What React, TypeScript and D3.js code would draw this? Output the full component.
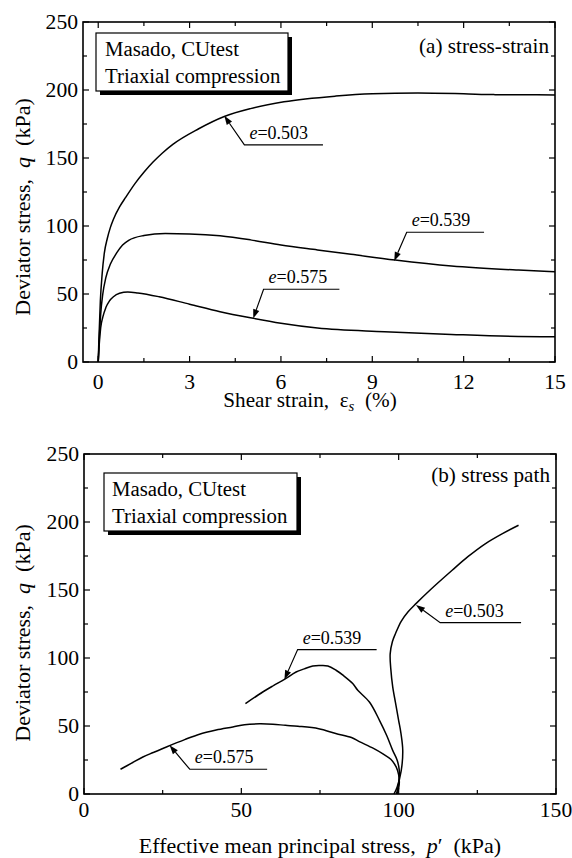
import React from "react";
import * as d3 from "d3";

const FONT = "Liberation Serif, Times New Roman, Times, serif";

// ---------- Panel (a): stress-strain ----------
const strainTicks = [0, 3, 6, 9, 12, 15];
const strainMinor = [1.5, 4.5, 7.5, 10.5, 13.5];
const qTicks = [0, 50, 100, 150, 200, 250];
const qMinor = [25, 75, 125, 175, 225];

const strain503: [number, number][] = [
  [0, 0], [0.02, 15], [0.07, 45], [0.13, 65], [0.2, 80], [0.3, 91], [0.4, 99], [0.5, 105], [0.7, 114],
  [0.9, 121], [1.2, 131], [1.5, 139.5], [1.8, 147], [2.1, 153.5], [2.45, 160], [3.3, 171.5], [4.14, 180.5],
  [5, 186.3], [6.1, 191.3], [7.8, 195.5], [9, 197.2], [10.5, 197.8], [12, 197.2], [13, 196.6], [14, 196.5], [15, 196.3],
];
const strain539: [number, number][] = [
  [0, 0], [0.03, 15], [0.08, 35], [0.15, 50], [0.25, 62], [0.4, 72], [0.6, 80], [0.8, 86],
  [1.0, 89.5], [1.5, 93], [2.2, 94.5], [3, 94.2], [4, 92.8], [5, 89.8], [6, 86], [7.2, 82.4],
  [8.3, 79.2], [9.75, 75], [11.6, 70.6], [13.8, 67.6], [15, 66.4],
];
const strain575: [number, number][] = [
  [0, 0], [0.03, 12], [0.08, 25], [0.15, 33], [0.25, 40], [0.37, 45], [0.5, 48], [0.7, 50.5],
  [0.97, 51.5], [1.3, 50.8], [2, 48], [3, 42.5], [4, 37], [5, 32.5], [6, 28.5], [7.2, 25],
  [9.4, 22.3], [11.6, 20.3], [13.8, 18.8], [15, 18.6],
];
// annotation: label, tip [x,q], knee [x,q], underline end x
const annA = [
  { label: "0.503", tip: [4.14, 181], knee: [4.8, 159.6], end: 7.38 },
  { label: "0.539", tip: [9.72, 74.3], knee: [10.13, 95.4], end: 12.67 },
  { label: "0.575", tip: [5.09, 32.1], knee: [5.43, 53.5], end: 7.92 },
];

// ---------- Panel (b): stress path ----------
const pTicks = [0, 50, 100, 150];
const pMinor = [25, 75, 125];

const path503: [number, number][] = [
  [98.5, 0], [99.5, 5], [100.8, 17], [101.3, 32], [100.7, 45], [100, 54], [99, 67], [98.1, 79],
  [97.5, 92], [97.3, 103], [98, 112], [99, 118], [100.8, 127], [103, 134], [105.5, 140], [110, 150],
  [117, 164.5], [122, 174.5], [127.5, 184], [133, 191.5], [138.1, 197.6],
];
const path539: [number, number][] = [
  [99.3, 0], [100, 8], [100.2, 17.4], [99.5, 25], [98.1, 32.1], [96.2, 43], [93.9, 54.2],
  [90.7, 67.6], [87, 76.3], [85.4, 81.2], [82.5, 87], [80.1, 91], [77.5, 94.1], [75, 94.4],
  [72.7, 94.1], [70, 92], [67.4, 89.7], [63.7, 84.3], [60.2, 79.7], [56.8, 75], [51.3, 66.5],
];
const path575: [number, number][] = [
  [99.6, 0], [100.2, 8], [100, 14], [99.2, 19.9], [97.5, 25.5], [95, 29.5], [92, 33.5],
  [87.5, 38.5], [85, 41.5], [80, 44.5], [74.6, 48], [68, 49.8], [64, 50.5], [60, 51.3],
  [55.8, 51.6], [51, 51], [47.3, 49.3], [42, 47], [36.7, 44], [32, 40], [26.2, 34.6],
  [22, 30.5], [18.7, 27.2], [15, 22.5], [11.6, 18.2],
];
const annB = [
  { label: "0.575", tip: [27.2, 35.8], knee: [33.6, 18.2], end: 58.2 },
  { label: "0.539", tip: [63.7, 84.3], knee: [67.9, 106.2], end: 93 },
  { label: "0.503", tip: [105.5, 139], knee: [113.2, 126], end: 138.9 },
];

function T({ x, y, size = 20, sx = 1, anchor = "start", rot = 0, children }: any) {
  return (
    <text
      transform={`translate(${x},${y}) rotate(${rot}) scale(${sx},1)`}
      textAnchor={anchor}
      fill="#000"
      style={{ whiteSpace: "pre", fontFamily: FONT, fontSize: size + "px" }}
    >
      {children}
    </text>
  );
}

function Arrow({ tip, knee, end, label, x, y }: any) {
  const tx = x(tip[0]), ty = y(tip[1]);
  const kx = x(knee[0]), ky = y(knee[1]);
  const ex = x(end);
  const ang = Math.atan2(ty - ky, tx - kx);
  const L = 9, W = 3.2;
  const bx = tx - L * Math.cos(ang), by = ty - L * Math.sin(ang);
  const nx = -Math.sin(ang), ny = Math.cos(ang);
  const head = `${tx},${ty} ${bx + nx * W},${by + ny * W} ${bx - nx * W},${by - ny * W}`;
  return (
    <g>
      <polyline points={`${bx},${by} ${kx},${ky} ${ex},${ky}`} fill="none" stroke="#000" strokeWidth={1.2} />
      <polygon points={head} fill="#000" />
      <T x={kx + 5} y={ky - 6} size={18}>
        <tspan fontStyle="italic">e</tspan>={label}
      </T>
    </g>
  );
}

function Frame({ x, y, xMajor, xMinor, xLabY }: any) {
  const [x0, x1] = x.range();
  const [y0, y1] = y.range();
  const M = 6, m = 4;
  const els: any[] = [];
  xMajor.forEach((v: number, i: number) => {
    const px = x(v);
    els.push(<line key={"xb" + i} x1={px} x2={px} y1={y0} y2={y0 - M} stroke="#000" strokeWidth={1.2} />);
    els.push(<line key={"xt" + i} x1={px} x2={px} y1={y1} y2={y1 + M} stroke="#000" strokeWidth={1.2} />);
    els.push(
      <T key={"xl" + i} x={px} y={xLabY} anchor="middle" sx={1.08}>
        {String(v)}
      </T>
    );
  });
  xMinor.forEach((v: number, i: number) => {
    const px = x(v);
    els.push(<line key={"xbm" + i} x1={px} x2={px} y1={y0} y2={y0 - m} stroke="#000" strokeWidth={1.2} />);
    els.push(<line key={"xtm" + i} x1={px} x2={px} y1={y1} y2={y1 + m} stroke="#000" strokeWidth={1.2} />);
  });
  qTicks.forEach((v, i) => {
    const py = y(v);
    els.push(<line key={"yl" + i} x1={x0} x2={x0 + M} y1={py} y2={py} stroke="#000" strokeWidth={1.2} />);
    els.push(<line key={"yr" + i} x1={x1} x2={x1 - M} y1={py} y2={py} stroke="#000" strokeWidth={1.2} />);
    els.push(
      <T key={"yt" + i} x={x0 - 5} y={py + 7} anchor="end" sx={1.08}>
        {String(v)}
      </T>
    );
  });
  qMinor.forEach((v, i) => {
    const py = y(v);
    els.push(<line key={"ylm" + i} x1={x0} x2={x0 + m} y1={py} y2={py} stroke="#000" strokeWidth={1.2} />);
    els.push(<line key={"yrm" + i} x1={x1} x2={x1 - m} y1={py} y2={py} stroke="#000" strokeWidth={1.2} />);
  });
  return (
    <g>
      <rect x={x0} y={y1} width={x1 - x0} height={y0 - y1} fill="none" stroke="#000" strokeWidth={1.6} />
      {els}
    </g>
  );
}

function Legend({ bx, by, bw, bh, tx }: any) {
  return (
    <g>
      <rect x={bx + 4} y={by + 4} width={bw} height={bh} fill="#000" />
      <rect x={bx} y={by} width={bw} height={bh} fill="#fff" stroke="#000" strokeWidth={1.2} />
      <T x={tx} y={by + 22.5} size={20} sx={1.04}>Masado, CUtest</T>
      <T x={tx} y={by + 50} size={20} sx={1.04}>Triaxial compression</T>
    </g>
  );
}

export default function App() {
  const xa = d3.scaleLinear().domain([-0.5, 15]).range([83, 555]);
  const ya = d3.scaleLinear().domain([0, 250]).range([362, 22]);
  const xb = d3.scaleLinear().domain([0, 150]).range([84, 556]);
  const yb = d3.scaleLinear().domain([0, 250]).range([794, 454]);

  const lineA = d3.line<[number, number]>().x((d) => xa(d[0])).y((d) => ya(d[1])).curve(d3.curveMonotoneX);
  const lineB = d3.line<[number, number]>().x((d) => xb(d[0])).y((d) => yb(d[1])).curve(d3.curveCatmullRom.alpha(0.5));

  return (
    <svg width={572} height={858} style={{ position: "absolute", left: 0, top: 0, display: "block", background: "#fff" }}>
      <rect width={572} height={858} fill="#fff" />
      {/* Panel a */}
      <Frame x={xa} y={ya} xMajor={strainTicks} xMinor={strainMinor} xLabY={389} />
      {[strain503, strain539, strain575].map((d, i) => (
        <path key={"a" + i} d={lineA(d) || ""} fill="none" stroke="#000" strokeWidth={1.5} />
      ))}
      {annA.map((a, i) => (
        <Arrow key={"aa" + i} {...a} x={xa} y={ya} />
      ))}
      <Legend bx={96} by={33} bw={192} bh={58} tx={105} />
      <T x={549} y={53} anchor="end" size={20} sx={1.06}>(a) stress-strain</T>
      <T x={310} y={407} anchor="middle" size={20} sx={1.06}>
        Shear strain,  ε<tspan fontStyle="italic" fontSize={14} dy={4}>s</tspan>
        <tspan dy={-4}>  (%)</tspan>
      </T>
      <T x={30} y={207} anchor="middle" rot={-90} size={20} sx={1.1}>
        Deviator stress,  <tspan fontStyle="italic">q</tspan>  (kPa)
      </T>

      {/* Panel b */}
      <Frame x={xb} y={yb} xMajor={pTicks} xMinor={pMinor} xLabY={817} />
      {[path503, path539, path575].map((d, i) => (
        <path key={"b" + i} d={lineB(d) || ""} fill="none" stroke="#000" strokeWidth={1.5} />
      ))}
      {annB.map((a, i) => (
        <Arrow key={"bb" + i} {...a} x={xb} y={yb} />
      ))}
      <Legend bx={104} by={473} bw={193} bh={58} tx={112} />
      <T x={550} y={482} anchor="end" size={20} sx={1.06}>(b) stress path</T>
      <T x={320} y={853} anchor="middle" size={20} sx={1.1}>
        Effective mean principal stress,  <tspan fontStyle="italic">p</tspan>′  (kPa)
      </T>
      <T x={30} y={633} anchor="middle" rot={-90} size={20} sx={1.1}>
        Deviator stress,  <tspan fontStyle="italic">q</tspan>  (kPa)
      </T>
    </svg>
  );
}
